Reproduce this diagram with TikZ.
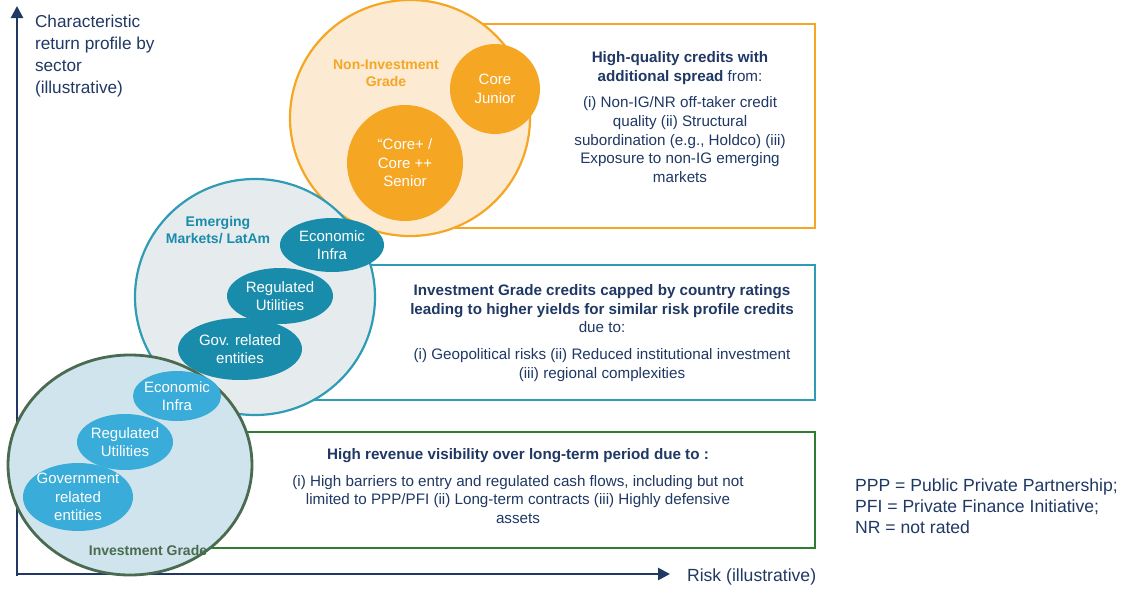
\documentclass[tikz,border=0pt]{standalone}
\usepackage{fontspec}
\setmainfont{Liberation Sans}
\usetikzlibrary{arrows.meta}
\definecolor{navy}{HTML}{1F3864}
\definecolor{org}{HTML}{F5A623}
\definecolor{orgl}{HTML}{FCEBD2}
\definecolor{teal}{HTML}{2E9CB5}
\definecolor{teald}{HTML}{1A8CAB}
\definecolor{tealbg}{HTML}{E6EBED}
\definecolor{grn}{HTML}{2E7D32}
\definecolor{grnd}{HTML}{4A6B50}
\definecolor{ltb}{HTML}{CFE4EC}
\definecolor{ltbd}{HTML}{3AACD9}
\begin{document}
\begin{tikzpicture}[x=0.5pt,y=-0.5pt,
  txt/.style={text=navy,font=\fontsize{7.6}{9.3}\selectfont,align=center},
  inner/.style={text=white,font=\fontsize{7.5}{9.2}\selectfont,align=center},
  lab/.style={font=\bfseries\fontsize{7}{8.6}\selectfont,align=center}]
\useasboundingbox (0,0) rectangle (1130,594);
% axes
\coordinate (ytop) at (17,6);
\coordinate (xend) at (670,574);
\draw[navy,line width=1.3pt,-{Triangle[length=6pt,width=6pt]}] (17,576) -- (ytop);
\draw[navy,line width=1.3pt,-{Triangle[length=6pt,width=6pt]}] (16,574) -- (xend);
\node[txt,anchor=north west,align=left,font=\fontsize{8.6}{11}\selectfont] (ylab) at (28,8) {Characteristic\\return profile by\\sector\\(illustrative)};
\node[txt,anchor=west,font=\fontsize{8.8}{10}\selectfont] (xlab) at (680,577) {Risk (illustrative)};
% orange
\draw[org,line width=1.1pt,fill=white] (450,24) rectangle (815,228);
\node[txt] (ot) at (680,117) {\textbf{High-quality credits with}\\\textbf{additional spread} from:\\[4pt](i) Non-IG/NR off-taker credit\\quality (ii) Structural\\subordination (e.g., Holdco) (iii)\\Exposure to non-IG emerging\\markets};
\draw[org,line width=1.1pt,fill=orgl] (410,118) ellipse [x radius=120,y radius=118];
\node[lab,text=org] (nig) at (386,73) {Non-Investment\\Grade};
\node[circle,fill=org,minimum size=90pt*0.5,inner sep=0] (cj) at (495,89) {};
\node[inner] at (cj) {Core\\Junior};
\node[circle,fill=org,minimum size=116pt*0.5,inner sep=0] (cs) at (405,163) {};
\node[inner] at (cs) {“Core+ /\\Core ++\\Senior};
% teal
\draw[teal,line width=1.1pt,fill=white] (300,265) rectangle (815,400);
\node[txt] (tt) at (602,333) {\textbf{Investment Grade credits capped by country ratings}\\\textbf{leading to higher yields for similar risk profile credits}\\due to:\\[4pt](i) Geopolitical risks (ii) Reduced institutional investment\\(iii) regional complexities};
\draw[teal,line width=1.1pt,fill=tealbg] (255,297) ellipse [x radius=120,y radius=118];
\node[lab,text=teald] (em) at (218,230) {Emerging\\Markets/ LatAm};
\fill[teald] (332,245) ellipse [x radius=52,y radius=27];
\node[inner] (t1) at (332,245) {Economic\\Infra};
\fill[teald] (280,296) ellipse [x radius=53,y radius=28];
\node[inner] (t2) at (280,296) {Regulated\\Utilities};
\fill[teald] (240,349) ellipse [x radius=62,y radius=31];
\node[inner] (t3) at (240,349) {Gov. related\\entities};
% green
\draw[grn,line width=1.1pt,fill=white] (200,432) rectangle (815,548);
\node[txt] (gt) at (518,486) {\textbf{High revenue visibility over long-term period due to :}\\[4pt](i) High barriers to entry and regulated cash flows, including but not\\limited to PPP/PFI (ii) Long-term contracts (iii) Highly defensive\\assets};
\draw[grnd,line width=1.4pt,fill=ltb] (130,465) ellipse [x radius=122,y radius=110];
\fill[ltbd] (177,396) ellipse [x radius=44,y radius=25];
\node[inner] (g1) at (177,396) {Economic\\Infra};
\fill[ltbd] (125,442) ellipse [x radius=48,y radius=28];
\node[inner] (g2) at (125,442) {Regulated\\Utilities};
\fill[ltbd] (78,497) ellipse [x radius=55,y radius=34];
\node[inner] (g3) at (78,497) {Government\\related\\entities};
\node[lab,text=grnd] (ig) at (148,550) {Investment Grade};
% footnote
\node[txt,anchor=north west,align=left,font=\fontsize{8.8}{10.5}\selectfont] (fn) at (848,472) {PPP = Public Private Partnership;\\PFI = Private Finance Initiative;\\NR = not rated};
\end{tikzpicture}
\end{document}
